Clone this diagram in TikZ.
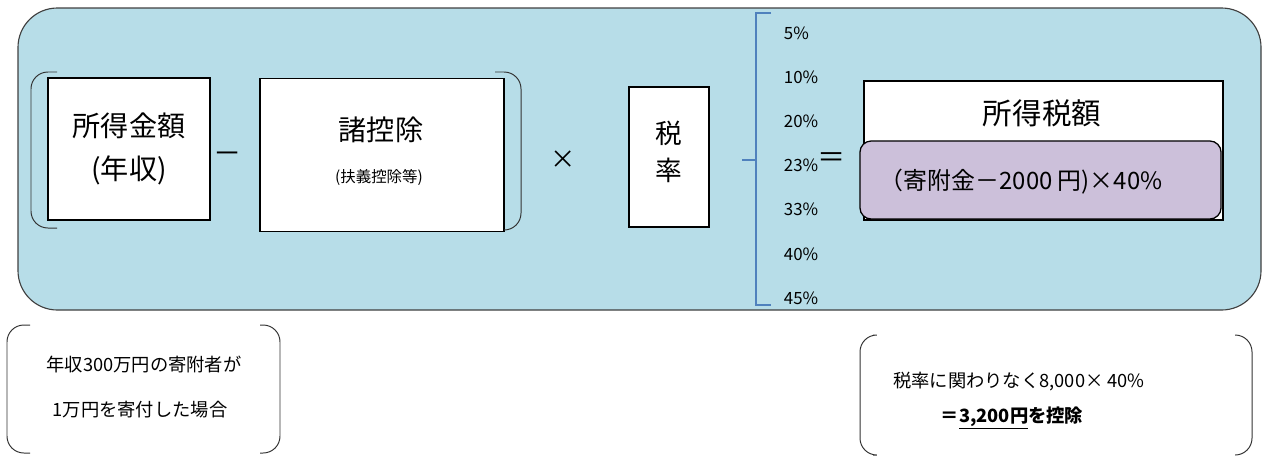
\documentclass[tikz,border=0pt]{standalone}
\usepackage{fontspec}
\setmainfont{Noto Sans CJK JP}
\definecolor{panel}{HTML}{B7DDE8}
\definecolor{lilac}{HTML}{CCC0DA}
\definecolor{bracecol}{HTML}{4F81BD}

\begin{document}
\begin{tikzpicture}[x=0.025cm, y=-0.025cm,
    box/.style={draw, fill=white, line width=0.9pt, inner sep=0pt},
    paren/.style={draw=black!80, line width=0.7pt, rounded corners=12pt},
    pct/.style={anchor=west, font=\fontsize{12}{12}\selectfont},
    big/.style={font=\fontsize{20}{20}\selectfont},
    note/.style={font=\fontsize{13}{13}\selectfont}]
    \useasboundingbox (0,0) rectangle (1274,456);
    % panel
    \draw[fill=panel, draw=black!75, line width=0.8pt, rounded corners=28pt] (18,8) rectangle (1261,310);
    % income - deductions
    \node[box, minimum width=4.05cm, minimum height=3.55cm, align=center,
          font=\fontsize{20}{30}\selectfont] (income) at (129,149) {所得金額\\(年収)};
    \node[big] (minus) at (228,158) {－};
    \node[box, minimum width=6.1cm, minimum height=3.825cm] (deduct) at (382,155) {};
    \node[big] (deducttitle) at (381,130) {諸控除};
    \node[font=\fontsize{11}{11}\selectfont] (deductnote) at (379,177) {(扶義控除等)};
    \draw[paren] (57,72) -- (31,72) -- (31,228) -- (57,228);
    \draw[paren] (495,72) -- (521,72) -- (521,230) -- (504,230);
    % times tax rate
    \node[font=\fontsize{18}{18}\selectfont] (times) at (563,160) {×};
    \node[box, minimum width=2cm, minimum height=3.5cm] (taxrate) at (669,157) {};
    \node[align=center, font=\fontsize{19}{26}\selectfont] (taxratetext) at (669,152) {税\\率};
    % brace and rates
    \draw[bracecol, line width=1.6pt] (771,13) -- (756,13) -- (756,305) -- (771,305);
    \draw[bracecol, line width=1.6pt] (756,160) -- (742,160);
    \foreach \p [count=\i from 0] in {5,10,20,23,33,40,45}
      \node[pct] (rate\p) at (779,33+44.2*\i) {\p\%};
    \node[big] (equals) at (832,160) {＝};
    % income tax
    \node[box, minimum width=8.975cm, minimum height=3.475cm] (taxbox) at (1043.5,150.5) {};
    \node[font=\fontsize{21}{21}\selectfont] (taxtitle) at (1042,113) {所得税額};
    \node[draw, fill=lilac, line width=0.9pt, rounded corners=8pt, inner sep=0pt,
          minimum width=9.025cm, minimum height=1.95cm] (credit) at (1040.5,180) {};
    \node[anchor=west, font=\fontsize{17}{17}\selectfont] (credittext) at (875,182) {（寄附金－2000 円)×40\%};
    % example
    \draw[paren] (30,325) -- (7,325) -- (7,453) -- (30,453);
    \draw[paren] (260,325) -- (280,325) -- (280,453) -- (260,453);
    \node[note] (case1) at (144,365) {年収300万円の寄附者が};
    \node[note] (case2) at (140,410) {1万円を寄付した場合};
    \draw[paren] (873,335) -- (860,335) -- (860,455) -- (873,455);
    \draw[paren] (1235,335) -- (1252,335) -- (1252,455) -- (1235,455);
    \node[note] (result1) at (1019,382) {税率に関わりなく8,000× 40\%};
    \node[note] (result2) at (1012,418) {\bfseries ＝\underline{3,200円}を控除};
\end{tikzpicture}
\end{document}
